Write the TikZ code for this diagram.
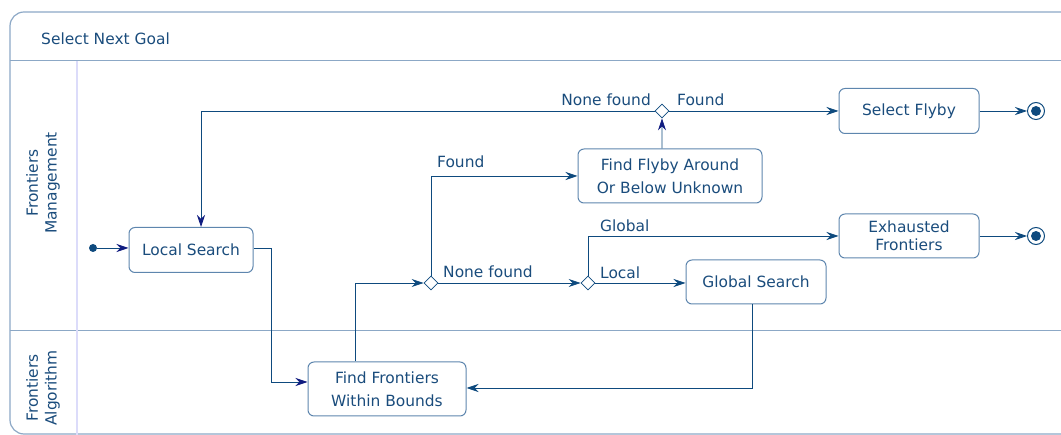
\documentclass[tikz,border=0pt]{standalone}
\usepackage{fontspec}
\setmainfont{DejaVu Sans}
\usetikzlibrary{arrows.meta,shapes.geometric}
\definecolor{umlline}{HTML}{0E4A7E}
\definecolor{umltext}{HTML}{1A4C7C}
\definecolor{umlbox}{HTML}{5E86AE}
\definecolor{umlframe}{HTML}{8CA8C6}
\definecolor{umllane}{HTML}{DCDCFA}
\definecolor{umltip}{HTML}{101C80}

\begin{document}
\begin{tikzpicture}[x=1bp,y=-1bp,
    every node/.style={font=\fontsize{15.5}{18}\selectfont, text=umltext},
    act/.style={draw=umlbox, line width=1bp, rounded corners=6bp, inner sep=0pt,
        minimum width=140bp, minimum height=45bp, align=center},
    choice/.style={diamond, draw=umlline, fill=white, line width=0.8bp,
        inner sep=0pt, minimum size=14bp},
    flow/.style={draw=umlline, line width=0.8bp,
        -{Stealth[length=12bp,width=8bp,inset=4bp]}},
    navyflow/.style={flow, -{Stealth[length=12bp,width=8bp,inset=4bp,color=umltip]}},
    lbl/.style={inner sep=0pt}
  ]
  \useasboundingbox (0,0) rectangle (1061,435);
  \draw[umlframe, line width=1.2bp, rounded corners=14bp] (10,12) rectangle (1090,434);
  \draw[umlframe, line width=1bp] (10,61) -- (1061,61);
  \draw[umlframe, line width=1bp] (10,331) -- (1061,331);
  \draw[umllane, line width=1.2bp] (77,61) -- (77,435);

  \node[anchor=west, lbl] (title) at (41,39) {Select Next Goal};
  \node[rotate=90, align=center, font=\fontsize{15.5}{19}\selectfont] (lanetop) at (43,183) {Frontiers\\Management};
  \node[rotate=90, align=center, font=\fontsize{15.5}{19}\selectfont] (lanebot) at (43,388) {Frontiers\\Algorithm};

  \node[circle, fill=umlline, inner sep=0pt, minimum size=8bp] (start) at (93,248) {};
  \node[act, minimum width=124bp] (local) at (191,250) {Local Search};
  \node[act, minimum width=158bp, minimum height=54bp] (frontiers) at (387,389) {Find Frontiers\\[5bp]Within Bounds};
  \node[choice] (d1) at (431,283) {};
  \node[choice] (d2) at (588,283) {};
  \node[act, minimum width=184bp, minimum height=54bp] (flyby) at (670,176) {Find Flyby Around\\[5bp]Or Below Unknown};
  \node[choice] (d3) at (662,111) {};
  \node[act] (select) at (909,111) {Select Flyby};
  \node[act, minimum height=44bp] (exhausted) at (909,236) {Exhausted\\[0bp]Frontiers};
  \node[act, minimum height=44bp] (global) at (756,282) {Global Search};
  \node[circle, draw=umlline, fill=white, line width=1bp, inner sep=0pt, minimum size=17bp] (end1) at (1036,111) {};
  \node[circle, fill=umlline, inner sep=0pt, minimum size=10bp] at (end1) {};
  \node[circle, draw=umlline, fill=white, line width=1bp, inner sep=0pt, minimum size=17bp] (end2) at (1036,236) {};
  \node[circle, fill=umlline, inner sep=0pt, minimum size=10bp] at (end2) {};

  \draw[navyflow] (start) -- (start -| local.west);
  \draw[navyflow] ([yshift=2bp]local.east) -- ++(18,0) |- ([yshift=7bp]frontiers.west);
  \draw[flow] ([xshift=-32bp]frontiers.north) |- (d1.west);
  \draw[flow] (d1.north) |- (flyby.west);
  \draw[flow] (d1.east) -- (d2.west);
  \draw[flow] (d2.north) |- (exhausted.west);
  \draw[flow] (d2.east) -- (d2.east -| global.west);
  \draw[flow] ([xshift=-4bp]global.south) |- ([yshift=1bp]frontiers.east);
  \draw[navyflow] ([xshift=-8bp]flyby.north) -- (d3.south);
  \draw[navyflow] (d3.west) -| ([xshift=10bp]local.north);
  \draw[flow] (d3.east) -- (select.west);
  \draw[flow] (select.east) -- (end1.west);
  \draw[flow] (exhausted.east) -- (end2.west);

  \node[lbl, anchor=west] (lfound) at (437,162) {Found};
  \node[lbl, anchor=west] (lnone) at (443,272) {None found};
  \node[lbl, anchor=west] (lglobal) at (600,226) {Global};
  \node[lbl, anchor=west] (llocal) at (600,273) {Local};
  \node[lbl, anchor=east] (lnone2) at (651,100) {None found};
  \node[lbl, anchor=west] (lfound2) at (677,100) {Found};
\end{tikzpicture}
\end{document}
